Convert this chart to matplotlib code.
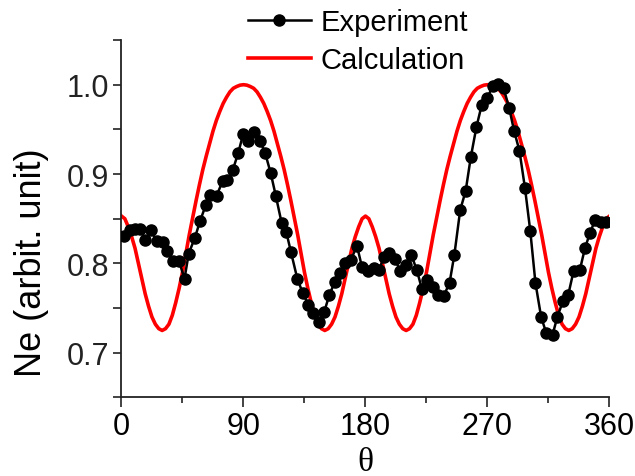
import numpy as np
import matplotlib.pyplot as plt
from matplotlib.ticker import MultipleLocator

theta_exp = [2.2, 6.3, 10.0, 13.6, 17.6, 21.9, 26.0, 30.4, 33.9, 38.2,
             42.3, 46.5, 49.6, 54.2, 57.9, 62.1, 65.3, 70.2, 74.6, 78.0,
             82.0, 86.2, 89.8, 93.5, 97.7, 102.2, 105.9, 110.1, 113.8, 118.2,
             121.6, 125.0, 129.7, 133.7, 137.8, 141.5, 145.7, 149.6, 153.4, 157.3,
             161.4, 164.9, 169.3, 173.7, 177.4, 181.5, 186.1, 190.0, 193.6, 197.7,
             201.5, 205.7, 210.1, 213.7, 217.8, 221.7, 225.7, 229.8, 233.7, 237.8,
             242.0, 245.6, 249.9, 253.9, 257.7, 261.9, 265.7, 269.8, 274.1, 278.0,
             281.9, 286.0, 289.7, 293.6, 297.7, 301.6, 305.4, 309.6, 313.4, 318.0,
             321.5, 325.7, 329.6, 333.6, 338.2, 341.9, 345.6, 349.5, 353.6, 357.6]
ne_exp = [0.831, 0.837, 0.839, 0.839, 0.826, 0.837, 0.825, 0.824, 0.814, 0.803,
          0.803, 0.783, 0.811, 0.829, 0.847, 0.865, 0.877, 0.876, 0.892, 0.893,
          0.904, 0.924, 0.945, 0.937, 0.947, 0.937, 0.924, 0.901, 0.876, 0.845,
          0.835, 0.813, 0.783, 0.767, 0.754, 0.744, 0.734, 0.746, 0.765, 0.779,
          0.789, 0.801, 0.804, 0.820, 0.796, 0.791, 0.795, 0.793, 0.807, 0.812,
          0.805, 0.792, 0.798, 0.810, 0.793, 0.771, 0.781, 0.774, 0.765, 0.764,
          0.778, 0.810, 0.860, 0.881, 0.919, 0.953, 0.977, 0.985, 0.999, 1.001,
          0.996, 0.974, 0.948, 0.926, 0.884, 0.836, 0.778, 0.740, 0.722, 0.720,
          0.740, 0.758, 0.765, 0.792, 0.793, 0.817, 0.834, 0.849, 0.846, 0.846]

# calculo (leido cada 2.5 grados)
theta_calc = [i * 2.5 for i in range(145)]
ne_calc = [0.853, 0.850, 0.841, 0.830, 0.817, 0.800, 0.783, 0.766, 0.752, 0.740,
           0.732, 0.727, 0.725, 0.727, 0.732, 0.742, 0.756, 0.772, 0.790, 0.811,
           0.832, 0.851, 0.870, 0.888, 0.905, 0.920, 0.934, 0.948, 0.960, 0.970,
           0.979, 0.986, 0.992, 0.996, 0.998, 0.9995, 1.000,
           0.9995, 0.998, 0.996, 0.992, 0.986, 0.979, 0.970, 0.960, 0.948, 0.934,
           0.920, 0.905, 0.888, 0.870, 0.851, 0.832, 0.811, 0.790, 0.772, 0.756,
           0.742, 0.732, 0.727, 0.725, 0.727, 0.732, 0.740, 0.752, 0.766, 0.783,
           0.800, 0.817, 0.830, 0.841, 0.850, 0.853,
           0.850, 0.841, 0.830, 0.817, 0.800, 0.783, 0.766, 0.752, 0.740,
           0.732, 0.727, 0.725, 0.727, 0.732, 0.742, 0.756, 0.772, 0.790, 0.811,
           0.832, 0.851, 0.870, 0.888, 0.905, 0.920, 0.934, 0.948, 0.960, 0.970,
           0.979, 0.986, 0.992, 0.996, 0.998, 0.9995, 1.000,
           0.9995, 0.998, 0.996, 0.992, 0.986, 0.979, 0.970, 0.960, 0.948, 0.934,
           0.920, 0.905, 0.888, 0.870, 0.851, 0.832, 0.811, 0.790, 0.772, 0.756,
           0.742, 0.732, 0.727, 0.725, 0.727, 0.732, 0.740, 0.752, 0.766, 0.783,
           0.800, 0.817, 0.830, 0.841, 0.850, 0.853]

xticks = [0, 90, 180, 270, 360]
yticks = [0.7, 0.8, 0.9, 1.0]

fuente = "Liberation Sans"

fig = plt.figure(figsize=(6.35, 4.77), dpi=100)
ax = fig.add_axes([0.1913, 0.1646, 0.7685, 0.7494])

ax.plot(theta_calc, ne_calc, color="#ff0000", lw=2.6, label="Calculation", zorder=2)
ax.plot(theta_exp, ne_exp, color="black", lw=1.8, marker="o", ms=8,
        label="Experiment", zorder=3)

ax.set_xlim(0, 360)
ax.set_ylim(0.65, 1.05)
ax.set_xticks(xticks)
ax.set_xticklabels([str(t) for t in xticks])
ax.set_yticks(yticks)
ax.set_yticklabels(["%.1f" % t for t in yticks])
ax.xaxis.set_minor_locator(MultipleLocator(45))
ax.yaxis.set_minor_locator(MultipleLocator(0.05))

for lado in ["top", "right"]:
    ax.spines[lado].set_visible(False)
for lado in ["left", "bottom"]:
    ax.spines[lado].set_linewidth(1.3)
    ax.spines[lado].set_color("#222222")

ax.tick_params(axis="both", which="major", direction="out", width=1.2,
               labelsize=22, pad=3, colors="#222222", labelcolor="black")
ax.tick_params(axis="x", which="major", length=7)
ax.tick_params(axis="x", which="minor", length=4.5, width=1.2, colors="#222222")
ax.tick_params(axis="y", which="both", length=6, width=1.2, colors="#222222")
for lab in ax.get_xticklabels() + ax.get_yticklabels():
    lab.set_family(fuente)

ax.set_ylabel("Ne (arbit. unit)", family=fuente, fontsize=26)
ax.yaxis.set_label_coords(-0.148, 0.38)
fig.text(0.5 * (0.1913 + 0.9598), 0.03, "\u03b8", family="Liberation Serif",
         fontsize=24, ha="center", va="center")

h, l = ax.get_legend_handles_labels()
fig.legend(h[::-1], l[::-1], loc="upper left", bbox_to_anchor=(0.372, 1.005),
           frameon=False, prop={"family": fuente, "size": 21},
           handlelength=2.15, handletextpad=0.35, labelspacing=0.35,
           borderaxespad=0)

fig.savefig("out.png", dpi=100)
